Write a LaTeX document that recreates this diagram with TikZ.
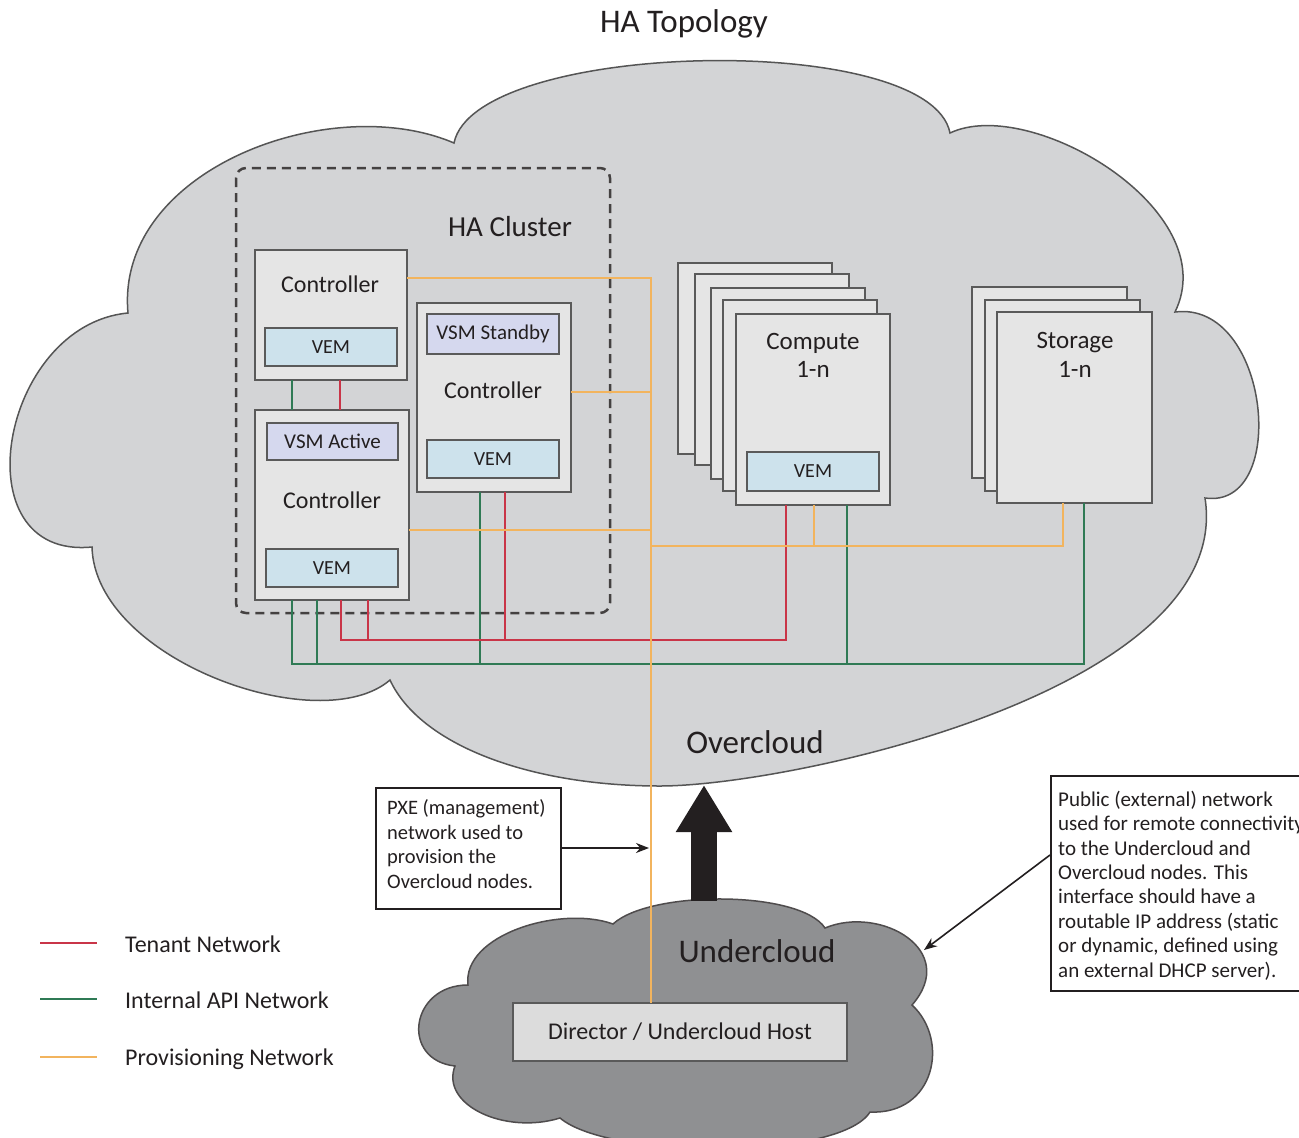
\documentclass[tikz,border=0pt]{standalone}
\usepackage{fontspec}
\setmainfont{Carlito}
\usetikzlibrary{arrows.meta}

\definecolor{ink}{HTML}{231F20}
\definecolor{cloudfill}{HTML}{D3D4D6}
\definecolor{cloudline}{HTML}{555555}
\definecolor{underfill}{HTML}{8F9092}
\definecolor{boxfill}{HTML}{E5E5E5}
\definecolor{edge}{HTML}{5A5A5A}
\definecolor{vemfill}{HTML}{CDE2EC}
\definecolor{vsmfill}{HTML}{D5D8EE}
\definecolor{hostfill}{HTML}{DCDCDC}
\definecolor{tenantc}{HTML}{C93548}
\definecolor{apic}{HTML}{2F7A55}
\definecolor{provc}{HTML}{F2B45E}

\newcommand\setfs[1]{\fontsize{#1}{#1}\selectfont}

\begin{document}
\begin{tikzpicture}[x=1pt,y=-1pt,
  every node/.style={text=ink},
  box/.style={draw=edge, line width=1.6pt, fill=boxfill, inner sep=0pt, outer sep=0pt},
  vembox/.style={box, fill=vemfill, minimum width=132pt, minimum height=38pt, font=\setfs{20}},
  vsmbox/.style={box, fill=vsmfill, minimum width=132pt, minimum height=38pt, font=\setfs{21}},
  ctrlbox/.style={box, minimum width=154pt},
  nodebox/.style={box, minimum width=154pt, minimum height=191pt},
  lbl/.style={inner sep=0pt, anchor=base},
  tenant/.style={draw=tenantc, line width=2.8pt},
  api/.style={draw=apic, line width=2.8pt},
  prov/.style={draw=provc, line width=2.8pt},
  note/.style={draw=ink, line width=2pt, fill=white, inner sep=0pt},
  notetext/.style={inner sep=0pt, anchor=base west, align=left, font=\fontsize{20.5}{24.4}\selectfont},
  pointer/.style={draw=ink, line width=1.6pt, -{Stealth[length=13pt,width=10pt]}}
]
\useasboundingbox (0,0) rectangle (1299,1138);
\clip (0,0) rectangle (1299,1138);
\fill[white] (0,0) rectangle (1299,1138);

% ---------- title ----------
\node[lbl, font=\setfs{33}] (title) at (684,32) {HA Topology};

% ---------- overcloud ----------
\draw[fill=cloudfill, draw=cloudline, line width=1.5pt]
  (454,143) .. controls (475,40) and (930,30) .. (950,133)
  .. controls (1030,95) and (1225,210) .. (1175,312)
  .. controls (1270,300) and (1290,510) .. (1205,498)
  .. controls (1235,690) and (790,786) .. (660,786)
  .. controls (530,786) and (420,745) .. (390,680)
  .. controls (320,740) and (95,660) .. (92,547)
  .. controls (-41,560) and (0,325) .. (128,313)
  .. controls (115,170) and (330,90) .. (454,143) -- cycle;
\node[lbl, font=\setfs{33}] (overlbl) at (755,753) {Overcloud};

% ---------- HA cluster frame ----------
\draw[draw=ink!85, line width=2.5pt, dash pattern=on 9pt off 6pt, rounded corners=10pt]
  (236,168) rectangle (610,613);
\node[lbl, font=\setfs{29}] (clusterlbl) at (510,236) {HA Cluster};

% ---------- controllers ----------
\node[ctrlbox, minimum width=152pt, minimum height=130pt] (c1) at (331,315) {};
\node[lbl, font=\setfs{24}] (c1lbl) at (330,292) {Controller};
\node[vembox] (c1vem) at (331,347) {VEM};

\node[ctrlbox, minimum height=190pt] (c2) at (332,505) {};
\node[vsmbox, minimum width=131pt, minimum height=37pt] (c2vsm) at (332.5,441.5) {VSM Active};
\node[lbl, font=\setfs{24}] (c2lbl) at (332,508) {Controller};
\node[vembox] (c2vem) at (332,568) {VEM};

\node[ctrlbox, minimum height=189pt] (c3) at (494,397.5) {};
\node[vsmbox, minimum height=40pt] (c3vsm) at (493,334) {VSM Standby};
\node[lbl, font=\setfs{24}] (c3lbl) at (493,398) {Controller};
\node[vembox] (c3vem) at (493,459) {VEM};

% ---------- compute stack ----------
\node[nodebox, anchor=north west] (cmpA) at (678,263) {};
\node[nodebox, anchor=north west] (cmpB) at (695,274) {};
\node[nodebox, anchor=north west] (cmpC) at (711,288) {};
\node[nodebox, anchor=north west] (cmpD) at (723,300) {};
\node[nodebox, anchor=north west] (cmp) at (736,314) {};
\node[lbl, font=\setfs{25}] (cmplbl) at (813,349) {Compute};
\node[lbl, font=\setfs{25}] (cmpn) at (813,377) {1-n};
\node[vembox, minimum height=39pt] (cmpvem) at (813,471.5) {VEM};

% ---------- storage stack ----------
\node[nodebox, minimum width=155pt, anchor=north west] (stA) at (972,287) {};
\node[nodebox, minimum width=155pt, anchor=north west] (stB) at (985,300) {};
\node[nodebox, minimum width=155pt, anchor=north west] (st) at (997,312) {};
\node[lbl, font=\setfs{25}] (stlbl) at (1075,348) {Storage};
\node[lbl, font=\setfs{25}] (stn) at (1075,377) {1-n};

% ---------- undercloud ----------
\draw[fill=underfill, draw=ink!80, line width=1.5pt]
  (468,985) .. controls (462,935) and (560,905) .. (613,924)
  .. controls (650,890) and (800,890) .. (825,928)
  .. controls (880,905) and (960,950) .. (912,1005)
  .. controls (950,1040) and (935,1115) .. (870,1112)
  .. controls (840,1160) and (610,1160) .. (560,1118)
  .. controls (505,1135) and (440,1105) .. (455,1066)
  .. controls (400,1060) and (410,985) .. (468,985) -- cycle;
\node[lbl, font=\setfs{33}] (underlbl) at (757,962) {Undercloud};
\node[box, fill=hostfill, minimum width=334pt, minimum height=58pt, font=\setfs{24}] (dir) at (680,1032) {Director / Undercloud Host};

% ---------- bus rails ----------
\coordinate (rbus) at (0,640);
\coordinate (gbus) at (0,664);
\coordinate (obus) at (0,546);
\coordinate (trunk) at (651,278);

% internal API network
\draw[api] ([xshift=37pt]c1.south west) -- ([xshift=37pt]c2.north west);
\draw[api] ([xshift=37pt]c2.south west) coordinate (g1) -- (g1 |- gbus)
  -- (gbus -| st.south west) coordinate (gend);
\draw[api] ([xshift=87pt]st.south west) coordinate (g5) -- (g5 |- gbus) -- (g1 |- gbus);
\draw[api] ([xshift=62pt]c2.south west) coordinate (g2) -- (g2 |- gbus);
\draw[api] ([xshift=63pt]c3.south west) coordinate (g3) -- (g3 |- gbus);
\draw[api] ([xshift=111pt]cmp.south west) coordinate (g4) -- (g4 |- gbus);

% tenant network
\draw[tenant] ([xshift=85pt]c1.south west) -- ([xshift=85pt]c2.north west);
\draw[tenant] ([xshift=86pt]c2.south west) coordinate (r1) -- (r1 |- rbus)
  -- (rbus -| cmp.south west);
\draw[tenant] ([xshift=50pt]cmp.south west) coordinate (r4) -- (r4 |- rbus) -- (r1 |- rbus);
\draw[tenant] ([xshift=113pt]c2.south west) coordinate (r2) -- (r2 |- rbus);
\draw[tenant] ([xshift=88pt]c3.south west) coordinate (r3) -- (r3 |- rbus);

% provisioning network
\draw[prov] (c1.east |- trunk) -- (trunk) -- (trunk |- dir.north);
\draw[prov] ([yshift=-89pt]c3.north east) coordinate (p3) -- (p3 -| trunk);
\draw[prov] ([yshift=-120pt]c2.north east) coordinate (p2) -- (p2 -| trunk);
\draw[prov] ([xshift=66pt]st.south west) coordinate (p5) -- (p5 |- obus) -- (obus -| trunk);
\draw[prov] ([xshift=78pt]cmp.south west) coordinate (p4) -- (p4 |- obus);

% ---------- deployment arrow ----------
\coordinate (upfrom) at (704,901);
\coordinate (upto) at (704,785);
\draw[draw=ink, line width=26pt, -{Triangle[width=53pt,length=47pt]}] (upfrom) -- (upto);

% ---------- callouts ----------
\node[note, minimum width=185pt, minimum height=121pt, anchor=north west] (pxebox) at (375,787) {};
\node[notetext] (pxetxt) at (387,888) {PXE (management)\\network used to\\provision the\\Overcloud nodes.};
\coordinate (pxehit) at (649,848);
\draw[pointer] (pxebox.east |- pxehit) -- (pxehit);

\node[note, minimum width=280pt, minimum height=215pt, anchor=north west] (pubbox) at (1050,775) {};
\node[notetext, font=\fontsize{21}{24.4}\selectfont] (pubtxt) at (1058,977) {Public (external) network\\used for remote connectivity\\to the Undercloud and\\Overcloud nodes. This\\interface should have a\\routable IP address (static\\or dynamic, defined using\\an external DHCP server).};
\coordinate (pubhit) at (924,950);
\draw[pointer] ([yshift=-80pt]pubbox.north west) -- (pubhit);

% ---------- legend ----------
\coordinate (lt1) at (40,943);  \coordinate (lt2) at (97,943);
\coordinate (la1) at (40,999);  \coordinate (la2) at (97,999);
\coordinate (lp1) at (40,1057); \coordinate (lp2) at (97,1057);
\draw[tenant, line width=2pt] (lt1) -- (lt2);
\draw[api, line width=2.2pt] (la1) -- (la2);
\draw[prov, line width=2.2pt] (lp1) -- (lp2);
\node[lbl, anchor=base west, font=\setfs{24}] (legT) at (125,952) {Tenant Network};
\node[lbl, anchor=base west, font=\setfs{24}] (legA) at (125,1008) {Internal API Network};
\node[lbl, anchor=base west, font=\setfs{24}] (legP) at (125,1065) {Provisioning Network};
\end{tikzpicture}
\end{document}
